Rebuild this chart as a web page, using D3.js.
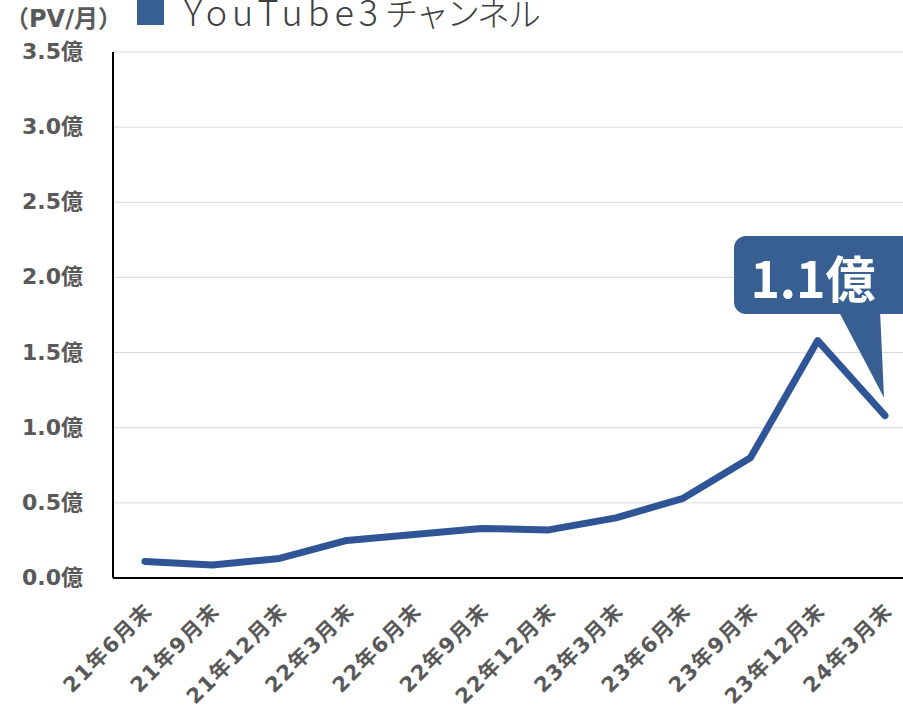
<!DOCTYPE html>
<html>
<head>
<meta charset="utf-8">
<script src="https://cdn.jsdelivr.net/npm/d3@7"></script>
<style>
  body { margin: 0; background: #fff; }
  svg { display: block; }
  text { font-family: "DejaVu Sans", "Noto Sans CJK JP", sans-serif; }
  .jp { font-family: "Noto Sans CJK JP", "Noto Sans", sans-serif; }
</style>
</head>
<body>
<svg class="container" width="903" height="716"></svg>
<script>
let categories = ["21年6月末", "21年9月末", "21年12月末", "22年3月末", "22年6月末", "22年9月末",
    "22年12月末", "23年3月末", "23年6月末", "23年9月末", "23年12月末", "24年3月末"];
let values = [0.11, 0.087, 0.13, 0.25, 0.29, 0.33, 0.32, 0.40, 0.53, 0.80, 1.58, 1.08];
let yTicks = [0, 0.5, 1.0, 1.5, 2.0, 2.5, 3.0, 3.5];
let seriesLatin = "YouTube3";
let seriesKana = "チャンネル";
let unitLabel = "（PV/月）";
let calloutText = "1.1億";

let plotLeft = 113;
let plotRight = 903;
let plotTop = 52;
let plotBottom = 578;

let svg = d3.select(".container");

let x = d3.scalePoint()
    .domain(categories)
    .range([145, 885]);
let y = d3.scaleLinear()
    .domain([0, 3.5])
    .range([plotBottom, plotTop]);

// gridlines
svg.append("g")
    .selectAll("line")
    .data(yTicks.filter(d => d > 0))
    .enter()
    .append("line")
    .attr("x1", plotLeft)
    .attr("x2", plotRight)
    .attr("y1", d => y(d))
    .attr("y2", d => y(d))
    .style("stroke", "#d9d9d9")
    .style("stroke-width", 1);

// y labels
svg.append("g")
    .selectAll("text")
    .data(yTicks)
    .enter()
    .append("text")
    .attr("x", 83)
    .attr("y", d => y(d) + 7)
    .attr("text-anchor", "end")
    .style("font-size", "22px")
    .style("font-weight", "bold")
    .style("fill", "#595959")
    .text(d => d.toFixed(1) + "億");

// axes
svg.append("line")
    .attr("x1", plotLeft).attr("x2", plotLeft)
    .attr("y1", plotTop).attr("y2", plotBottom)
    .style("stroke", "#000").style("stroke-width", 2);
svg.append("line")
    .attr("x1", plotLeft).attr("x2", plotRight)
    .attr("y1", plotBottom).attr("y2", plotBottom)
    .style("stroke", "#000").style("stroke-width", 2);

// x labels
svg.append("g")
    .selectAll("text")
    .data(categories)
    .enter()
    .append("text")
    .attr("transform", d => "translate(" + (x(d) + 9) + "," + 612 + ") rotate(-45)")
    .attr("text-anchor", "end")
    .style("font-size", "21px")
    .style("font-weight", "bold")
    .style("letter-spacing", "1.5px")
    .style("fill", "#595959")
    .text(d => d);

// line
let line = d3.line()
    .x((d, i) => x(categories[i]))
    .y(d => y(d));
svg.append("path")
    .datum(values)
    .attr("d", line)
    .style("fill", "none")
    .style("stroke", "#2f5597")
    .style("stroke-width", 7)
    .style("stroke-linejoin", "round")
    .style("stroke-linecap", "round");

// callout
let lastX = x(categories[categories.length - 1]);
let lastY = y(values[values.length - 1]);
svg.append("path")
    .attr("d", "M" + 838 + "," + 310 + " L" + (lastX - 1) + "," + (lastY - 18) + " L" + 880 + "," + 310 + " Z")
    .style("fill", "#375f91");
svg.append("rect")
    .attr("x", 734)
    .attr("y", 236)
    .attr("width", 180)
    .attr("height", 78)
    .attr("rx", 12)
    .style("fill", "#375f91");
svg.append("text")
    .attr("class", "jp")
    .attr("x", 813)
    .attr("y", 298)
    .attr("text-anchor", "middle")
    .style("font-size", "50px")
    .style("font-weight", "bold")
    .style("fill", "#fff")
    .text(calloutText);

// legend
svg.append("text")
    .attr("x", 5)
    .attr("y", 27)
    .style("font-size", "24px")
    .style("font-weight", "bold")
    .style("fill", "#595959")
    .text(unitLabel);
svg.append("rect")
    .attr("x", 137)
    .attr("y", -4)
    .attr("width", 27)
    .attr("height", 29)
    .style("fill", "#375f91");
let legendText = svg.append("text")
    .attr("class", "jp")
    .attr("x", 184)
    .attr("y", 26)
    .style("font-weight", 300)
    .style("fill", "#404040");
legendText.append("tspan")
    .style("font-size", "36px")
    .style("letter-spacing", "5px")
    .text(seriesLatin);
legendText.append("tspan")
    .attr("dx", 2)
    .style("font-size", "33px")
    .style("letter-spacing", "-2px")
    .text(seriesKana);
</script>
</body>
</html>
